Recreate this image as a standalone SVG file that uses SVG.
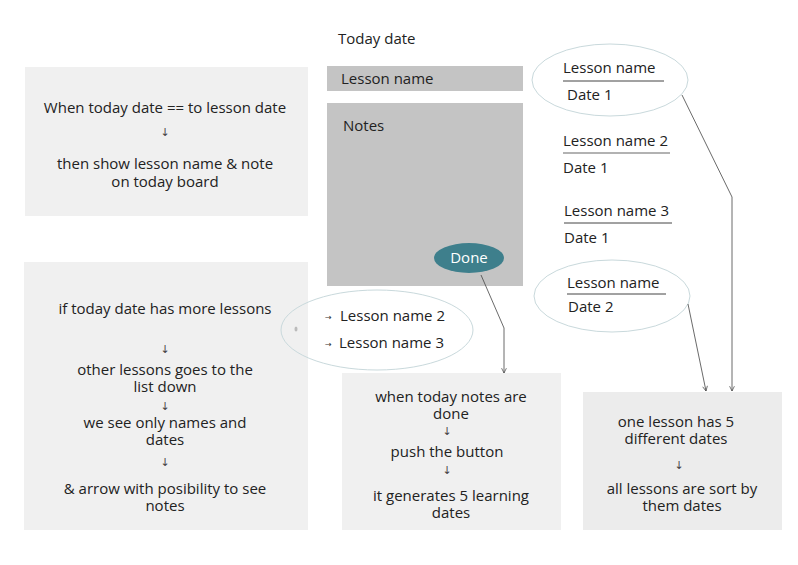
<svg xmlns="http://www.w3.org/2000/svg" width="798" height="565" viewBox="0 0 798 565">
<defs>
<marker id="ah" viewBox="0 0 10 10" refX="9" refY="5" markerWidth="6" markerHeight="6" orient="auto-start-reverse" markerUnits="userSpaceOnUse">
<path d="M1,1 L9,5 L1,9" fill="none" stroke="#444" stroke-width="1.2"/>
</marker>
</defs>
<style>
text{font-family:"Open Sans","Noto Sans","Liberation Sans",sans-serif;font-size:15px;fill:#222}
.c{text-anchor:middle}
.ar{font-family:"DejaVu Sans",sans-serif;font-size:11px;fill:#444}
.sm{font-family:"DejaVu Sans",sans-serif;font-size:8px;fill:#333}
.panel{fill:#f0f0f0}
.gray{fill:#c4c4c4}
.oval{fill:none;stroke:#c9d9dc;stroke-width:1}
.conn{fill:none;stroke:#444;stroke-width:0.8}
.ul{stroke:#444;stroke-width:1}
</style>
<rect width="798" height="565" fill="#fff"/>

<g id="today-date"><text x="338" y="44">Today date</text></g>

<g id="lesson-bar">
<rect class="gray" x="327" y="66" width="196" height="25"/>
<text x="341" y="84">Lesson name</text>
</g>

<g id="notes-box">
<rect class="gray" x="327" y="103" width="196" height="183"/>
<text x="343" y="131">Notes</text>
</g>

<g id="done-button">
<ellipse cx="469" cy="258" rx="35" ry="15" fill="#3e7f8c"/>
<text class="c" x="469" y="263" style="fill:#fff">Done</text>
</g>

<g id="panel-rule">
<rect class="panel" x="25" y="67" width="283" height="149"/>
<text class="c"><tspan x="165" y="113">When today date == to lesson date</tspan><tspan class="ar" x="165" y="136">↓</tspan><tspan x="165" y="169">then show lesson name &amp; note</tspan><tspan x="165" y="187">on today board</tspan></text>
</g>

<g id="panel-more">
<rect class="panel" x="24" y="262" width="284" height="268"/>
<text class="c"><tspan x="165" y="314">if today date has more lessons</tspan><tspan class="ar" x="165" y="353">↓</tspan><tspan x="165" y="375">other lessons goes to the</tspan><tspan x="165" y="392">list down</tspan><tspan class="ar" x="165" y="410">↓</tspan><tspan x="165" y="428">we see only names and</tspan><tspan x="165" y="445">dates</tspan><tspan class="ar" x="165" y="466">↓</tspan><tspan x="165" y="494">&amp; arrow with posibility to see</tspan><tspan x="165" y="511">notes</tspan></text>
</g>

<g id="list-oval">
<ellipse class="oval" cx="377" cy="330" rx="96" ry="40"/>
<ellipse cx="296" cy="329" rx="1.5" ry="2.5" fill="#bbb"/>
<text class="sm" x="325" y="320">→</text>
<text x="340" y="321">Lesson name 2</text>
<text class="sm" x="325" y="347">→</text>
<text x="339" y="348">Lesson name 3</text>
</g>

<g id="panel-done">
<rect class="panel" x="342" y="373" width="219" height="157"/>
<text class="c"><tspan x="451" y="402">when today notes are</tspan><tspan x="451" y="419">done</tspan><tspan class="ar" x="447" y="435">↓</tspan><tspan x="447" y="457">push the button</tspan><tspan class="ar" x="447" y="474">↓</tspan><tspan x="451" y="501">it generates 5 learning</tspan><tspan x="451" y="518">dates</tspan></text>
</g>

<g id="panel-dates">
<rect x="583" y="392" width="199" height="138" fill="#ececec"/>
<text class="c"><tspan x="676" y="427">one lesson has 5</tspan><tspan x="676" y="444">different dates</tspan><tspan class="ar" x="679" y="469">↓</tspan><tspan x="682" y="494">all lessons are sort by</tspan><tspan x="682" y="511">them dates</tspan></text>
</g>

<g id="date1-oval">
<ellipse class="oval" cx="610" cy="80" rx="78" ry="36"/>
<text x="563" y="73">Lesson name</text>
<line class="ul" x1="563" y1="81" x2="664" y2="81"/>
<text x="567" y="100">Date 1</text>
</g>

<g id="lesson2">
<text x="563" y="146">Lesson name 2</text>
<line x1="563" y1="153" x2="670" y2="153" stroke="#999" stroke-width="1.5"/>
<text x="563" y="173">Date 1</text>
</g>

<g id="lesson3">
<text x="564" y="216">Lesson name 3</text>
<line class="ul" x1="564" y1="223" x2="672" y2="223"/>
<text x="564" y="243">Date 1</text>
</g>

<g id="date2-oval">
<ellipse class="oval" cx="612" cy="296" rx="78" ry="36"/>
<text x="567" y="288">Lesson name</text>
<line class="ul" x1="567" y1="294" x2="666" y2="294"/>
<text x="568" y="312">Date 2</text>
</g>

<g id="connectors">
<polyline class="conn" points="481,275 504,328 504,373" marker-end="url(#ah)"/>
<polyline class="conn" points="682,95 732,197 732,391" marker-end="url(#ah)"/>
<polyline class="conn" points="688,304 706,391" marker-end="url(#ah)"/>
</g>
</svg>
